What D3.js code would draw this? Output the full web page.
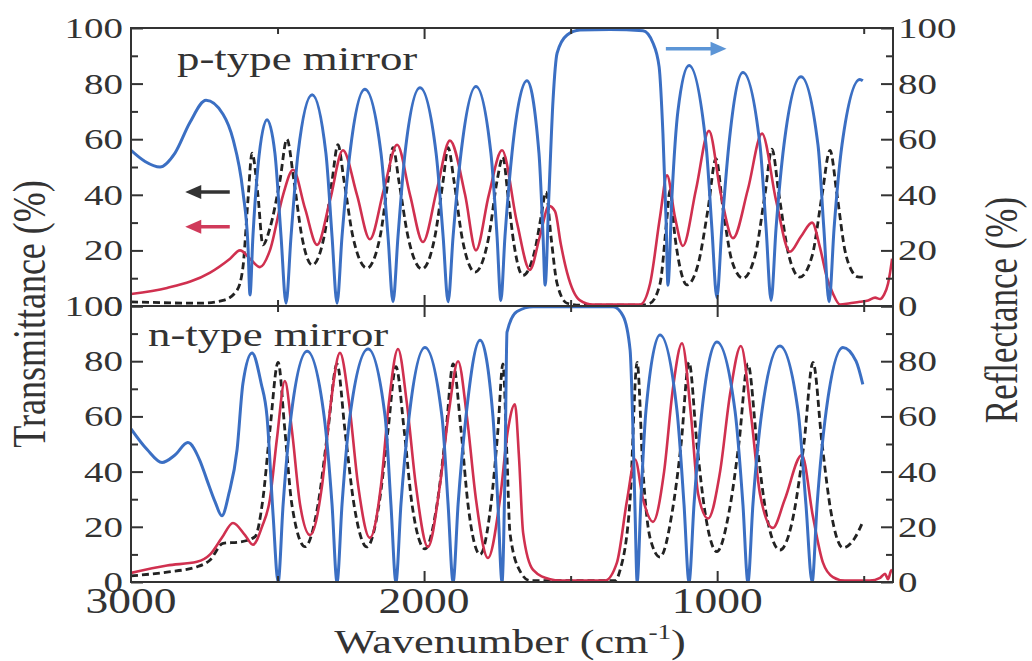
<!DOCTYPE html>
<html>
<head>
<meta charset="utf-8">
<script src="https://cdn.jsdelivr.net/npm/d3@7"></script>
<style>
  body { margin: 0; background: #fff; }
  svg { display: block; }
</style>
</head>
<body>
<script>
// --- data: [wavenumber, percent] ---
const pBlue = [[3000,56],[2952,52],[2901,50],[2850,55],[2799,66],[2744,74],[2686,69],[2652,60],[2618,41],[2601,22],[2594,4],[2584,25],[2567,50],[2536,67],[2509,55],[2488,25],[2471,1],[2454,25],[2430,55],[2382,76],[2335,55],[2314,25],[2297,1],[2280,25],[2253,55],[2202,78],[2147,55],[2123,25],[2106,1.5],[2089,25],[2065,55],[2014,78.5],[1959,55],[1935,25],[1918,1.5],[1901,25],[1874,55],[1823,79],[1772,55],[1751,25],[1738,2],[1724,25],[1700,55],[1649,81],[1608,55],[1594,25],[1587,7.5],[1574,40],[1560,74],[1546,91],[1512,97.5],[1468,99.3],[1366,99.5],[1253,99],[1219,94.6],[1198,86],[1185,62],[1174,30],[1168,7.5],[1154,40],[1134,70],[1096,86.5],[1038,58],[1018,28],[1001,3],[984,28],[960,58],[912,84],[854,58],[833,28],[816,2],[799,28],[772,58],[714,82.5],[656,58],[636,28],[618,1.5],[601,28],[574,58],[513,81.5],[503,81]];
const pRed = [[3000,4.3],[2877,6.5],[2730,12],[2662,17],[2628,20],[2594,17],[2560,14],[2526,20],[2481,40],[2447,49],[2406,35],[2365,22],[2321,38],[2277,56],[2229,40],[2185,24],[2137,42],[2092,58],[2048,40],[2004,23],[1956,42],[1912,59.5],[1860,40],[1823,20],[1779,40],[1734,56],[1683,30],[1639,13],[1605,25],[1574,36],[1553,34],[1533,22],[1512,12],[1468,2],[1424,0.5],[1263,0.5],[1229,8],[1195,32],[1171,47],[1144,32],[1117,21.6],[1072,42],[1028,63],[987,40],[946,24.4],[895,42],[847,62],[799,38],[752,19.5],[714,25],[676,30],[649,21],[625,10],[605,4.5],[581,0.5],[547,1],[513,1.5],[485,2],[461,3],[444,2.5],[431,4],[417,8],[410,12],[403,17]];
const pBlack = [[3000,1.5],[2765,1],[2686,2],[2638,5.7],[2618,14],[2601,38],[2587,55],[2567,40],[2550,22],[2526,28],[2492,45],[2468,60],[2444,45],[2417,25],[2382,14.7],[2341,25],[2314,45],[2294,58],[2273,45],[2243,25],[2195,13.6],[2150,25],[2123,45],[2106,57],[2086,45],[2055,25],[2007,13.3],[1963,25],[1935,45],[1918,57],[1898,45],[1871,25],[1826,12.2],[1779,25],[1751,45],[1731,53.6],[1714,40],[1693,22],[1663,11],[1622,20],[1601,32],[1584,41],[1567,25],[1546,8],[1512,1],[1468,0.3],[1263,0.3],[1229,1],[1195,8],[1171,32],[1161,41.7],[1144,25],[1127,14],[1103,7.6],[1065,15],[1031,35],[1004,53],[980,35],[949,16],[912,10],[871,18],[837,40],[813,56.4],[789,40],[755,18],[718,10.4],[676,18],[642,40],[615,56],[591,40],[564,20],[540,12.5],[520,10.5],[503,10.4]];

const nBlue = [[3000,55.5],[2945,48],[2894,43.3],[2850,46],[2806,50.5],[2765,44],[2741,37],[2713,29],[2690,24],[2666,32],[2638,48],[2618,72],[2587,83],[2556,72],[2536,60],[2515,24],[2498,0],[2481,28],[2454,60],[2399,83.6],[2341,60],[2314,28],[2297,0],[2280,28],[2253,60],[2191,84.4],[2133,60],[2113,28],[2096,0],[2079,28],[2051,60],[1997,85],[1939,60],[1918,28],[1901,0],[1884,28],[1857,60],[1809,87.6],[1765,60],[1748,28],[1734,0],[1724,40],[1717,90.5],[1683,98],[1628,99.7],[1355,99.7],[1321,96.4],[1297,84],[1287,54],[1280,25],[1273,0],[1260,30],[1243,62],[1195,89.5],[1137,62],[1113,28],[1096,0],[1079,28],[1052,62],[1001,87],[939,62],[912,28],[895,0],[878,28],[847,62],[786,85.5],[724,62],[697,28],[676,0],[659,28],[628,62],[571,85],[526,80],[503,71.6]];
const nRed = [[3000,3.3],[2877,6],[2775,7.3],[2730,10],[2690,16],[2652,21.4],[2611,17],[2584,13.5],[2553,20],[2526,30],[2502,52],[2475,72.8],[2451,55],[2423,28],[2389,17],[2348,35],[2318,65],[2287,83],[2256,65],[2225,35],[2185,16],[2147,35],[2120,65],[2089,84.4],[2059,65],[2028,35],[1987,12.7],[1946,35],[1915,62],[1884,80],[1854,60],[1823,30],[1782,8.7],[1741,30],[1714,55],[1690,64.4],[1676,45],[1662,17.8],[1628,4.4],[1570,1],[1536,0.5],[1383,0.5],[1342,7],[1307,30],[1280,44.4],[1253,30],[1219,21.8],[1181,40],[1151,70],[1120,86.5],[1089,60],[1065,32],[1031,23],[990,40],[956,68],[919,85.5],[884,60],[854,32],[810,19.6],[769,30],[711,46],[673,23.6],[639,7],[605,1.8],[564,0.5],[479,0.5],[444,1.5],[427,3],[417,1],[407,4],[403,4.5]];
const nBlack = [[3000,2.2],[2877,3.6],[2775,5.5],[2730,8],[2686,14],[2628,14.5],[2577,16.4],[2550,30],[2526,55],[2498,79.6],[2475,55],[2451,28],[2406,12.8],[2362,28],[2328,55],[2297,79],[2270,55],[2239,28],[2195,12.7],[2154,28],[2123,55],[2096,78],[2068,55],[2041,28],[1997,12],[1956,28],[1925,55],[1901,79],[1874,55],[1850,28],[1809,10],[1772,28],[1748,55],[1731,79],[1717,45],[1707,17.8],[1673,4],[1639,0.5],[1349,0.5],[1332,4],[1297,30],[1273,79.6],[1253,40],[1229,16],[1195,9],[1154,25],[1123,50],[1096,79.6],[1069,50],[1041,25],[1001,11],[960,25],[926,50],[895,79],[864,50],[833,25],[786,11.6],[738,25],[704,50],[673,79.6],[642,50],[611,25],[571,12.4],[530,16],[503,21.8]];

const yTickLabels = [0, 20, 40, 60, 80, 100];
const xTickLabels = [3000, 2000, 1000];
const xMajor = [2000, 1000];
const xMinor = [2500, 1500, 500];
const panelNames = ["p-type mirror", "n-type mirror"];
// arrows: [from wavenumber, to wavenumber, percent]
const arrowBlack = [2663, 2815, 41];
const arrowRed = [2663, 2815, 28.5];
const arrowBlue = [1175, 968, 92.5];

// --- setup ---
const W = 1032, H = 661;
const left = 131, right = 893;
const ink = "#333";
const blue = "#3b6fc3", red = "#d0304f", dark = "#222";
const serif = "Liberation Serif, Times New Roman, serif";
const SX = 1.3; // the original text is stretched horizontally

const svg = d3.select("body").append("svg").attr("width", W).attr("height", H);

const x = d3.scaleLinear().domain([3000, 400]).range([left, right]);
const yTop = d3.scaleLinear().domain([0, 100]).range([306, 28]);
const yBot = d3.scaleLinear().domain([0, 100]).range([582, 306]);

function label(g, px, py, str, size, anchor, rot) {
  return g.append("text")
    .attr("transform", `translate(${px},${py}) scale(${SX},1)` + (rot ? " rotate(-90)" : ""))
    .attr("text-anchor", anchor)
    .style("font-family", serif)
    .style("font-size", size + "px")
    .attr("fill", ink)
    .text(str);
}

const panels = [
  { y: yTop, series: [pBlack, pRed, pBlue], name: panelNames[0], nx: 177, ny: 70, rightLabels: yTickLabels },
  { y: yBot, series: [nBlack, nRed, nBlue], name: panelNames[1], nx: 148, ny: 346, rightLabels: yTickLabels.slice(0, 5) }
];

panels.forEach((p, i) => {
  const g = svg.append("g");
  const [y0, y1] = p.y.range();

  g.append("clipPath").attr("id", "clip" + i)
    .append("rect").attr("x", left).attr("y", y1).attr("width", right - left).attr("height", y0 - y1);

  const line = d3.line().x(d => x(d[0])).y(d => p.y(d[1])).curve(d3.curveMonotoneX);
  const styles = [
    { c: dark, w: 2.8, dash: "7,4" },
    { c: red, w: 2.6, dash: null },
    { c: blue, w: 3, dash: null }
  ];
  const plot = g.append("g").attr("clip-path", `url(#clip${i})`);
  p.series.forEach((s, k) => {
    plot.append("path")
      .datum(s)
      .attr("d", line)
      .attr("fill", "none")
      .attr("stroke", styles[k].c)
      .attr("stroke-width", styles[k].w)
      .attr("stroke-dasharray", styles[k].dash)
      .attr("stroke-linejoin", "round");
  });

  // ticks (inward) on all sides
  const tk = (axis, tx, ty) => {
    const a = g.append("g").attr("transform", `translate(${tx},${ty})`).call(axis);
    a.select(".domain").remove();
    a.selectAll("line").attr("stroke", ink).attr("stroke-width", 2);
    a.selectAll("text").remove();
  };
  tk(d3.axisLeft(p.y).tickValues(yTickLabels).tickSize(-12), left, 0);
  tk(d3.axisLeft(p.y).tickValues(d3.range(10, 100, 20)).tickSize(-7), left, 0);
  tk(d3.axisRight(p.y).tickValues(yTickLabels).tickSize(-12), right, 0);
  tk(d3.axisRight(p.y).tickValues(d3.range(10, 100, 20)).tickSize(-7), right, 0);
  tk(d3.axisTop(x).tickValues(xMajor).tickSize(-11), 0, y1);
  tk(d3.axisTop(x).tickValues(xMinor).tickSize(-6), 0, y1);
  tk(d3.axisBottom(x).tickValues(xMajor).tickSize(-11), 0, y0);
  tk(d3.axisBottom(x).tickValues(xMinor).tickSize(-6), 0, y0);

  g.append("rect")
    .attr("x", left).attr("y", y1).attr("width", right - left).attr("height", y0 - y1)
    .attr("fill", "none").attr("stroke", ink).attr("stroke-width", 2);

  yTickLabels.forEach(v => label(g, left - 8, p.y(v) + 10, v, 30, "end"));
  p.rightLabels.forEach(v => label(g, right + 5, p.y(v) + 10, v, 30, "start"));

  label(g, p.nx, p.ny, p.name, 34.5, "start");
});

// x tick labels
xTickLabels.forEach(v => label(svg, x(v), 613, v, 35, "middle"));

// axis titles
const xt = label(svg, 510, 653, "Wavenumber (cm", 34, "middle");
xt.append("tspan").attr("dy", -14).style("font-size", "21px").text("-1");
xt.append("tspan").attr("dy", 14).text(")");
label(svg, 45, 314, "Transmittance (%)", 36, "middle", true);
label(svg, 1017, 310, "Reflectance (%)", 35, "middle", true);

// arrows
function arrow(a, color, ys) {
  const x0 = x(a[0]), x1 = x(a[1]), yy = ys(a[2]);
  const dir = Math.sign(x1 - x0);
  svg.append("line")
    .attr("x1", x0).attr("y1", yy).attr("x2", x1 - dir * 12).attr("y2", yy)
    .attr("stroke", color).attr("stroke-width", 3.5);
  svg.append("path")
    .attr("d", `M${x1},${yy} L${x1 - dir * 16},${yy - 7} L${x1 - dir * 16},${yy + 7} Z`)
    .attr("fill", color);
}
arrow(arrowBlack, "#333", yTop);
arrow(arrowRed, "#d03a5a", yTop);
arrow(arrowBlue, "#5c95d6", yTop);
</script>
</body>
</html>
